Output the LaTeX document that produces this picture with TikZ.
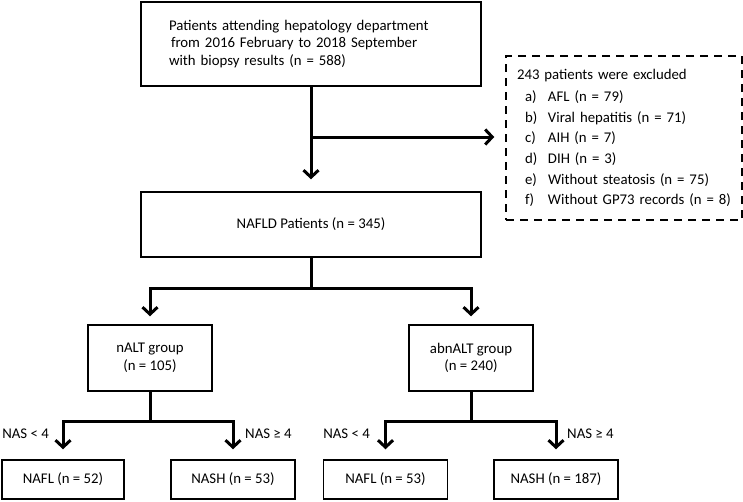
\documentclass[tikz,border=0pt]{standalone}
\usepackage{fontspec}
\setmainfont{Carlito}
\usetikzlibrary{arrows.meta}

\begin{document}
\begin{tikzpicture}[x=1pt,y=-1pt,font=\fontsize{14.8}{17.5}\selectfont]
    \tikzstyle{box}=[rectangle, draw, line width=1.5pt, inner sep=0pt, align=center]
    \tikzstyle{flow}=[line width=3pt, -{Straight Barb[length=7pt,width=15pt]}]
    \tikzstyle{flowline}=[line width=3pt]
    \tikzstyle{naslabel}=[inner sep=0pt]
    \useasboundingbox (0,0) rectangle (743,501);

    \node[box, minimum width=340pt, minimum height=84pt, text width=284pt, align=left] (start) at (311,44)
        {Patients attending hepatology department\\
         \hspace*{2pt}from 2016 February to 2018 September\\
         with biopsy results (n = 588)};
    \node[box, dash pattern=on 8pt off 6pt, minimum width=236pt, minimum height=164pt, text width=214pt,
          align=left, font=\fontsize{14.8}{20.6}\selectfont] (excl) at (624,138)
        {243 patients were excluded\\[1.4pt]
         \hspace*{8pt}\makebox[23pt][l]{a)}AFL (n = 79)\\
         \hspace*{8pt}\makebox[23pt][l]{b)}Viral hepatitis (n = 71)\\
         \hspace*{8pt}\makebox[23pt][l]{c)}AIH (n = 7)\\
         \hspace*{8pt}\makebox[23pt][l]{d)}DIH (n = 3)\\
         \hspace*{8pt}\makebox[23pt][l]{e)}Without steatosis (n = 75)\\
         \hspace*{8pt}\makebox[23pt][l]{f)}Without GP73 records (n = 8)};
    \node[box, minimum width=340pt, minimum height=65pt] (nafld) at (311,224.5) {NAFLD Patients (n = 345)};

    \node[box, minimum width=124pt, minimum height=66pt] (nalt)   at (150,358) {nALT group\\(n = 105)};
    \node[box, minimum width=124pt, minimum height=66pt] (abnalt) at (471,358) {abnALT group\\(n = 240)};

    \node[box, minimum width=122pt, minimum height=39pt] (naflA) at (63,479.5)    {NAFL (n = 52)};
    \node[box, minimum width=124pt, minimum height=39pt] (nashA) at (233,479.5)   {NASH (n = 53)};
    \node[box, minimum width=124pt, minimum height=39pt] (naflB) at (385.5,479.5) {NAFL (n = 53)};
    \node[box, minimum width=124pt, minimum height=39pt] (nashB) at (556,479.5)   {NASH (n = 187)};

    \coordinate (split) at (311,137);
    \coordinate (fork)  at (311,288);
    \coordinate (forkA) at (150,421);
    \coordinate (forkB) at (471,421);

    \draw[flow, shorten >=12pt] (start) -- (nafld);
    \draw[flow, shorten >=11pt] (split) -- (split -| excl.west);

    \draw[flowline] (nafld) -- (fork);
    \draw[flow, shorten >=8pt] (fork) -| (nalt);
    \draw[flow, shorten >=8pt] (fork) -| (abnalt);

    \draw[flowline] (nalt) -- (forkA);
    \draw[flow, shorten >=10pt] (forkA) -| (naflA);
    \draw[flow, shorten >=10pt] (forkA) -| (nashA);

    \draw[flowline] (abnalt) -- (forkB);
    \draw[flow, shorten >=10pt] (forkB) -| (naflB);
    \draw[flow, shorten >=10pt] (forkB) -| (nashB);

    \node[naslabel, anchor=east] (ltA) at (49,434)  {NAS < 4};
    \node[naslabel, anchor=west] (geA) at (245,434) {NAS ≥ 4};
    \node[naslabel, anchor=east] (ltB) at (370,434) {NAS < 4};
    \node[naslabel, anchor=west] (geB) at (567,434) {NAS ≥ 4};

\end{tikzpicture}
\end{document}
